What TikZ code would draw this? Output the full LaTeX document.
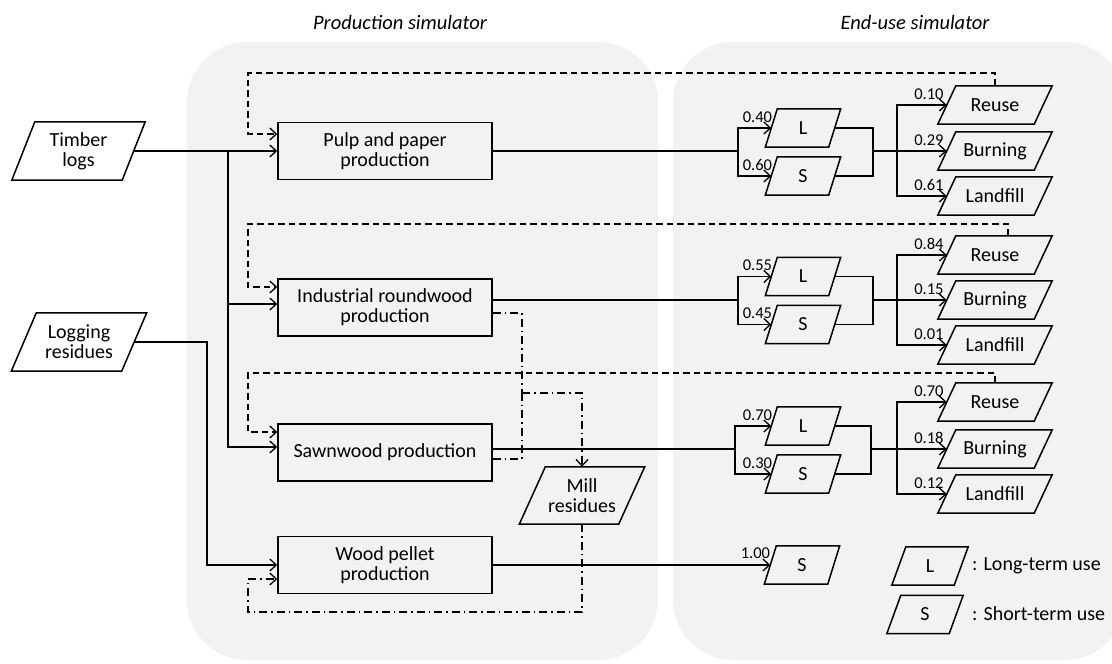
\documentclass[tikz,border=0pt]{standalone}
\usepackage{fontspec}
\setmainfont{Carlito}
\usetikzlibrary{arrows.meta,calc}
\definecolor{panel}{HTML}{F2F2F2}

% parallelogram node: name, x, y, mid-height width, height, slant, text
\newcommand\pgram[7]{%
  \node[slanttext, minimum width=#4, minimum height=#5] (#1) at (#2,#3) {#7};
  \draw[boxline] ([xshift=-#6/2]#1.south west) -- ([xshift=#6/2]#1.north west)
    -- ([xshift=#6/2]#1.north east) -- ([xshift=-#6/2]#1.south east) -- cycle;
}

\begin{document}
\begin{tikzpicture}[x=1pt,y=-1pt,
  panelbg/.style={fill=panel, draw=none, rounded corners=60pt},
  paneltitle/.style={font=\fontsize{20.5}{24}\selectfont\itshape, inner sep=0pt},
  boxline/.style={line width=1.5pt, line join=miter},
  procbox/.style={draw, line width=1.5pt, minimum width=214pt, minimum height=57pt,
    align=center, inner sep=0pt, font=\fontsize{20}{20}\selectfont},
  slanttext/.style={inner sep=0pt, align=center, font=\fontsize{20}{20}\selectfont},
  wire/.style={line width=1.5pt},
  barb/.style={-{Straight Barb[length=6.5pt,width=12pt,line width=1.3pt]}},
  flow/.style={wire, barb},
  feedback/.style={wire, dash pattern=on 6.5pt off 4pt, barb},
  residue/.style={wire, dash pattern=on 8pt off 4pt on 1.5pt off 4pt},
  share/.style={font=\fontsize{16.5}{18}\selectfont, inner sep=0pt, anchor=base east},
  legendtext/.style={font=\fontsize{20}{24}\selectfont, inner sep=0pt, anchor=west},
]
\useasboundingbox (0,0) rectangle (1112,664);

% simulator panels
\fill[panelbg] (187,42) rectangle (658,660);
\fill[panelbg] (673,42) rectangle (1125,660);
\node[paneltitle] (ptitle) at (400,22) {Production simulator};
\node[paneltitle] (etitle) at (915,22) {End-use simulator};

% inputs
\pgram{timber}{78.5}{151}{110}{58}{23}{Timber\\logs}
\pgram{logging}{79}{342}{110}{58}{25}{Logging\\residues}

% production processes
\node[procbox] (pulp)   at (385,151)   {Pulp and paper\\production};
\node[procbox] (ir)     at (385,307.5) {Industrial roundwood\\production};
\node[procbox] (sawn)   at (385,452.5) {Sawnwood production};
\node[procbox] (pellet) at (385,565)   {Wood pellet\\production};
\pgram{mill}{582}{495.5}{99}{57}{26}{Mill\\residues}

% end uses: long/short term
\pgram{L1}{803}{128}{63}{38}{12}{L}
\pgram{S1}{803}{176}{63}{38}{12}{S}
\pgram{L2}{803}{276.5}{63}{38}{12}{L}
\pgram{S2}{803}{324.5}{63}{38}{12}{S}
\pgram{L3}{803}{426}{63}{38}{12}{L}
\pgram{S3}{803}{474}{63}{38}{12}{S}
\pgram{S4}{802}{565}{63}{38}{12}{S}

% end of life
\pgram{reuse1}{995}{105}{96}{38}{18}{Reuse}
\pgram{burn1}{995}{151}{96}{38}{18}{Burning}
\pgram{land1}{995}{196}{96}{38}{18}{Landfill}
\pgram{reuse2}{995}{255}{96}{38}{18}{Reuse}
\pgram{burn2}{995}{300}{96}{38}{18}{Burning}
\pgram{land2}{995}{345}{96}{38}{18}{Landfill}
\pgram{reuse3}{995}{402}{96}{38}{18}{Reuse}
\pgram{burn3}{995}{449}{96}{38}{18}{Burning}
\pgram{land3}{995}{494}{96}{38}{18}{Landfill}

% legend
\pgram{legL}{930}{566}{62}{38}{14}{L}
\pgram{legS}{925}{614.5}{62}{38}{14}{S}
\node[legendtext] (legLt) at (972,566) {: Long-term use};
\node[legendtext] (legSt) at (972,614) {: Short-term use};

% raw material flows
\coordinate (tj) at (228,151);
\draw[flow] (timber.east) -- (pulp.west);
\draw[flow] (tj) |- (ir.west |- 0,304);
\draw[flow] (tj) |- (sawn.west |- 0,447);
\coordinate (lj) at (207,342);
\draw[flow] (logging.east) -- (lj) |- (pellet.west);

% product flows to end uses
\coordinate (g1a) at (738,151); \coordinate (g1b) at (873,151); \coordinate (g1c) at (897,151);
\coordinate (g2a) at (738,300); \coordinate (g2b) at (873,300); \coordinate (g2c) at (897,300);
\coordinate (g3a) at (735,449); \coordinate (g3b) at (871,449); \coordinate (g3c) at (897,449);
\draw[wire] (pulp.east) -- (g1a);
\draw[wire] (ir.east |- g2a) -- (g2a);
\draw[wire] (sawn.east |- g3a) -- (g3a);
\foreach \g in {1,2,3}{
  \draw[flow] (g\g a) |- (L\g.west);
  \draw[flow] (g\g a) |- (S\g.west);
  \draw[wire] (L\g.east) -| (g\g b);
  \draw[wire] (S\g.east) -| (g\g b);
  \draw[wire] (g\g b) -- (g\g c);
  \draw[flow] (g\g c) |- (reuse\g.west);
  \draw[flow] (g\g c) -- (burn\g.west);
  \draw[flow] (g\g c) |- (land\g.west);
}
\draw[flow] (pellet.east) -- (S4.west);

% shares
\node[share] at ([xshift=1pt,yshift=6pt]L1.west) {0.40};
\node[share] at ([xshift=1pt,yshift=6pt]S1.west) {0.60};
\node[share] at ([xshift=1pt,yshift=6pt]L2.west) {0.55};
\node[share] at ([xshift=1pt,yshift=6pt]S2.west) {0.45};
\node[share] at ([xshift=1pt,yshift=6pt]L3.west) {0.70};
\node[share] at ([xshift=1pt,yshift=6pt]S3.west) {0.30};
\node[share] at ([xshift=0pt,yshift=7pt]S4.west) {1.00};
\node[share] at ([xshift=-3pt,yshift=6pt]reuse1.west) {0.10};
\node[share] at ([xshift=-3pt,yshift=6pt]burn1.west) {0.29};
\node[share] at ([xshift=-3pt,yshift=6pt]land1.west) {0.61};
\node[share] at ([xshift=-3pt,yshift=6pt]reuse2.west) {0.84};
\node[share] at ([xshift=-3pt,yshift=6pt]burn2.west) {0.15};
\node[share] at ([xshift=-3pt,yshift=6pt]land2.west) {0.01};
\node[share] at ([xshift=-3pt,yshift=6pt]reuse3.west) {0.70};
\node[share] at ([xshift=-3pt,yshift=6pt]burn3.west) {0.18};
\node[share] at ([xshift=-3pt,yshift=6pt]land3.west) {0.12};

% reuse feedback loops
\draw[feedback] (reuse1.north) |- (248,73) |- (pulp.west |- 0,134);
\draw[feedback] ([xshift=13pt]reuse2.north) |- (248,224) |- (ir.west |- 0,287);
\draw[feedback] (reuse3.north) |- (248,373) |- (sawn.west |- 0,432);

% mill residue flows
\coordinate (mj) at (522,393);
\draw[residue] (ir.east |- 0,313) -| (mj);
\draw[residue] (sawn.east |- 0,459) -| (mj);
\draw[residue, barb] (mj) -| (mill.north);
\draw[residue, barb] (mill.south) |- (248,612) |- (pellet.west |- 0,579);
\end{tikzpicture}
\end{document}
